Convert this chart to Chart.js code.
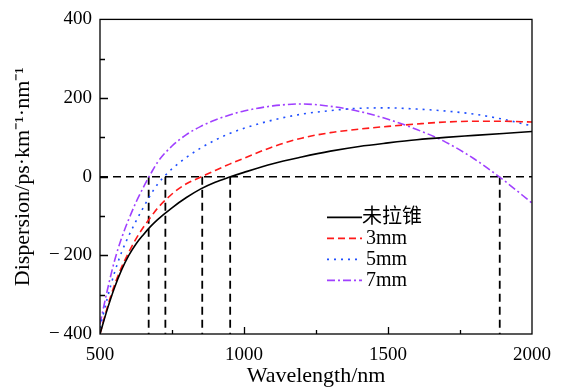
<!DOCTYPE html>
<html>
<head>
<meta charset="utf-8">
<script src="https://cdn.jsdelivr.net/npm/chart.js@4.4.1/dist/chart.umd.min.js"></script>
<style>
  html, body { margin: 0; padding: 0; background: #fff; }
  #wrap { width: 561px; height: 387px; }
</style>
</head>
<body>
<div id="wrap"><canvas id="chartDispersion"></canvas></div>
<script>
// Valori (lunghezza d'onda in nm, dispersione in ps/km/nm)
const wavelengths = [500, 525, 550, 575, 600, 625, 650, 675, 700, 750, 800, 850, 900, 950, 1000, 1100, 1200, 1300, 1400, 1500, 1600, 1700, 1800, 1900, 2000];
const noTaper  = [-400, -338, -283, -237, -200, -171, -148, -127, -109, -79, -53, -31, -14, -1, 11, 33, 50, 65, 77, 86, 94, 100, 105, 110, 115];
const taper3mm = [-400, -333, -276, -230, -192, -158, -129, -104, -80, -44, -18, -1, 16, 32, 47, 76, 98, 112, 121, 128, 134, 139, 141, 141, 139];
const taper5mm = [-385, -310, -245, -192, -150, -113, -79, -47, -19, 20, 49, 73, 93, 110, 123, 144, 159, 168, 174, 175, 172, 167, 159, 146, 129];
const taper7mm = [-375, -290, -215, -156, -108, -65, -28, 6, 37, 78, 107, 128, 144, 157, 167, 180, 185, 179, 166, 146, 120, 88, 45, -8, -67];

const seriesLabels = ['未拉锥', '3mm', '5mm', '7mm'];
const seriesColors = ['#000000', '#ff1a1a', '#1f4fff', '#a040ff'];
const seriesDash = [[], [7, 4], [2, 5], [8, 3, 2, 3]];

// Punti di dispersione nulla (linee tratteggiate verticali)
const zeroWavelengths = [669, 727, 855, 952, 1888];

const FONT = '"Liberation Serif", "Times New Roman", serif';

function toPoints(values) {
    return wavelengths.map((w, i) => ({ x: w, y: values[i] }));
}

function formatNumber(v) {
    if (v < 0) return '\u2212\u2009' + Math.abs(v);
    return String(v);
}

// Cornice e tacche interne
const frameTicks = {
    id: 'frameTicks',
    afterDatasetsDraw(chart) {
        const { ctx, chartArea: a, scales } = chart;
        const x = scales.x, y = scales.y;
        ctx.save();
        ctx.strokeStyle = '#000';
        ctx.lineWidth = 1.3;
        ctx.setLineDash([]);
        ctx.beginPath();
        for (let v = x.min + 250; v < x.max; v += 250) {
            const px = Math.round(x.getPixelForValue(v)) + 0.5;
            const len = v % 500 === 0 ? 7 : 4;
            ctx.moveTo(px, a.bottom);
            ctx.lineTo(px, a.bottom - len);
        }
        for (let v = y.min + 100; v < y.max; v += 100) {
            const py = Math.round(y.getPixelForValue(v)) + 0.5;
            const len = v % 200 === 0 ? 8 : 5;
            ctx.moveTo(a.left, py);
            ctx.lineTo(a.left + len, py);
        }
        ctx.stroke();
        ctx.strokeRect(a.left, a.top, a.right - a.left, a.bottom - a.top);
        ctx.restore();
    },
    afterDraw(chart) {
        // Legenda dentro l'area del grafico
        const { ctx, chartArea: a } = chart;
        ctx.save();
        ctx.font = '20px ' + FONT + ', "Noto Sans CJK SC"';
        ctx.textBaseline = 'middle';
        ctx.fillStyle = '#000';
        for (let i = 0; i < seriesLabels.length; i++) {
            const ds = chart.data.datasets[i];
            const yy = a.top + 198 + i * 21;
            ctx.strokeStyle = ds.borderColor;
            ctx.lineWidth = ds.borderWidth;
            ctx.setLineDash(ds.borderDash);
            ctx.beginPath();
            ctx.moveTo(a.left + 227, yy);
            ctx.lineTo(a.left + 262, yy);
            ctx.stroke();
            ctx.fillText(ds.label, a.left + (i === 0 ? 262 : 266), yy);
        }
        ctx.restore();
    }
};

const datasets = [noTaper, taper3mm, taper5mm, taper7mm].map((vals, i) => ({
    label: seriesLabels[i],
    data: toPoints(vals),
    borderColor: seriesColors[i],
    borderDash: seriesDash[i],
    borderWidth: 1.6,
    pointRadius: 0,
    cubicInterpolationMode: 'monotone',
    fill: false
}));

// Linea dello zero e verticali
datasets.push({
    label: '',
    data: [{ x: 500, y: 0 }, { x: 2000, y: 0 }],
    borderColor: '#000',
    borderDash: [8, 5],
    borderWidth: 1.6,
    pointRadius: 0
});
zeroWavelengths.forEach(w => {
    datasets.push({
        label: '',
        data: [{ x: w, y: 0 }, { x: w, y: -400 }],
        borderColor: '#000',
        borderDash: [8, 5],
        borderWidth: 1.8,
        pointRadius: 0
    });
});

const ctx = document.getElementById('chartDispersion').getContext('2d');
new Chart(ctx, {
    type: 'line',
    data: { datasets: datasets },
    plugins: [frameTicks],
    options: {
        responsive: true,
        maintainAspectRatio: false,
        animation: false,
        layout: { padding: { top: 17, right: 28, left: 0, bottom: 0 } },
        plugins: {
            legend: { display: false },
            tooltip: { enabled: false }
        },
        scales: {
            x: {
                type: 'linear',
                min: 500,
                max: 2000,
                grid: { display: false, drawTicks: false },
                border: { display: false },
                ticks: {
                    stepSize: 500,
                    padding: 10,
                    color: '#000',
                    maxRotation: 0,
                    font: { family: FONT, size: 19 },
                    callback: v => formatNumber(v)
                },
                title: {
                    display: true,
                    text: 'Wavelength/nm',
                    color: '#000',
                    font: { family: FONT, size: 22 },
                    padding: { top: 0, bottom: -2 }
                },
                afterFit: scale => { scale.height = 53; }
            },
            y: {
                min: -400,
                max: 400,
                grid: { display: false, drawTicks: false },
                border: { display: false },
                ticks: {
                    stepSize: 200,
                    padding: 8,
                    color: '#000',
                    font: { family: FONT, size: 19 },
                    callback: v => formatNumber(v)
                },
                title: {
                    display: true,
                    text: 'Dispersion/ps·km⁻¹·nm⁻¹',
                    color: '#000',
                    font: { family: FONT, size: 22 },
                    padding: { top: 10, bottom: 0 }
                },
                afterFit: scale => { scale.width = 100; }
            }
        }
    }
});
</script>
</body>
</html>
